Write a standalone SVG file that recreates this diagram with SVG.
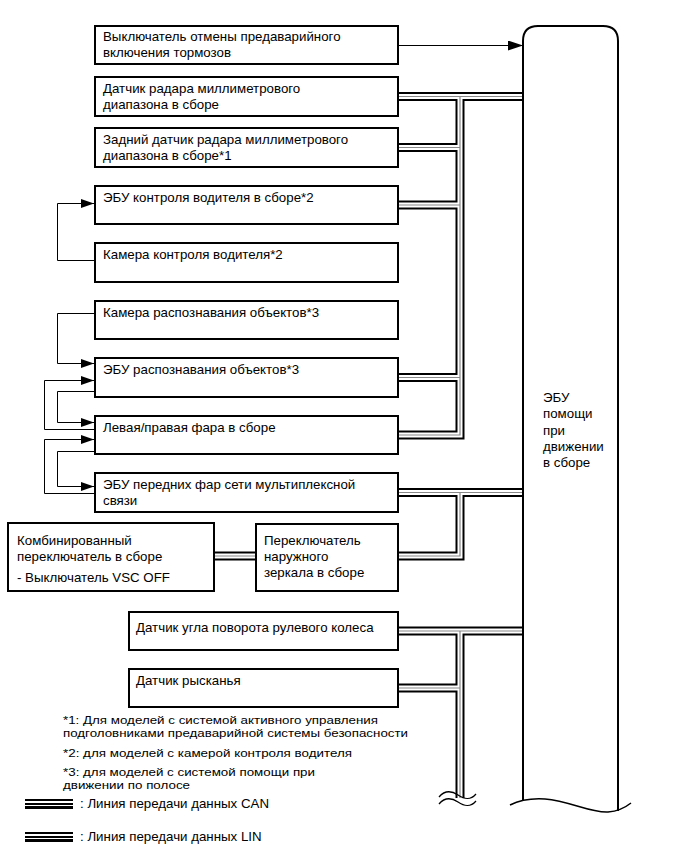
<svg xmlns="http://www.w3.org/2000/svg" width="687" height="857" viewBox="0 0 687 857">
<style>
.box{fill:#fff;stroke:#000;stroke-width:2}
.t{font-family:"Liberation Sans",Arial,sans-serif;font-size:13.3px;fill:#000}
.n{font-family:"Liberation Sans",Arial,sans-serif;font-size:11px;fill:#000}
.thin{fill:none;stroke:#000;stroke-width:1}
.bk{fill:none;stroke:#000;stroke-width:9;stroke-linejoin:miter;stroke-linecap:butt}
.wh{fill:none;stroke:#fff;stroke-width:5;stroke-linejoin:miter;stroke-linecap:butt}
.gr{fill:none;stroke:#888;stroke-width:1.2;stroke-linecap:butt}
</style>
<defs>
<marker id="ah" markerUnits="userSpaceOnUse" markerWidth="13" markerHeight="9" refX="13" refY="4.5" orient="auto"><path d="M0,0 L13,4.5 L0,9 z" fill="#000"/></marker>
<marker id="ahL" markerUnits="userSpaceOnUse" markerWidth="15" markerHeight="10" refX="15" refY="5" orient="auto"><path d="M0,0 L15,5 L0,10 z" fill="#000"/></marker>
<path id="busA" d="M523,96.5 H398 M460,96.5 V435 H398 M460,147.5 H398 M460,205 H398 M460,377.5 H398"/>
<path id="busB" d="M523,492.5 H398 M460,492.5 V556 H398 M214,556 H256"/>
<path id="busC" d="M523,631 H398 M460,631 V798 M460,688 H398"/>
</defs>
<rect width="687" height="857" fill="#fff"/>

<g id="connectors">
<use href="#busA" class="bk"/><use href="#busB" class="bk"/><use href="#busC" class="bk"/>
<use href="#busA" class="wh"/><use href="#busB" class="wh"/><use href="#busC" class="wh"/>
<use href="#busA" class="gr"/><use href="#busB" class="gr"/><use href="#busC" class="gr"/>
<path class="thin" d="M398,45.5 H523" marker-end="url(#ahL)"/>
<path class="thin" d="M95,260.5 H57.5 V203.5 H94" marker-end="url(#ah)"/>
<path class="thin" d="M95,313.5 H57.5 V363.5 H94" marker-end="url(#ah)"/>
<path class="thin" d="M95,429.5 H44.5 V380.5 H94" marker-end="url(#ah)"/>
<path class="thin" d="M95,391.5 H57.5 V422.5 H94" marker-end="url(#ah)"/>
<path class="thin" d="M95,493.5 H44.5 V439.5 H94" marker-end="url(#ah)"/>
<path class="thin" d="M95,451.5 H57.5 V486.5 H94" marker-end="url(#ah)"/>
<path fill="none" stroke="#000" stroke-width="1.3" d="M439,797 C445,790 452,791 458,795 S470,801 476,794"/>
<path fill="none" stroke="#000" stroke-width="1.3" d="M439,804 C445,797 452,798 458,802 S470,808 476,801"/>
</g>

<g id="ecu">
<path fill="none" stroke="#000" stroke-width="2" d="M523,801 V41 Q523,26 538,26 H603 Q618,26 618,41 V811"/>
<path fill="none" stroke="#000" stroke-width="1.5" d="M510,805 C520,800 530,798 545,799 C570,801 590,813 608,812 C620,811 626,807 631,803"/>
<text class="t" x="543" y="402">ЭБУ</text>
<text class="t" x="543" y="418">помощи</text>
<text class="t" x="543" y="435">при</text>
<text class="t" x="543" y="451">движении</text>
<text class="t" x="543" y="467">в сборе</text>
</g>

<g id="n1"><rect class="box" x="95" y="26" width="303" height="38"/>
<text class="t" x="103" y="41">Выключатель отмены предаварийного</text>
<text class="t" x="103" y="57">включения тормозов</text></g>
<g id="n2"><rect class="box" x="95" y="77" width="303" height="39"/>
<text class="t" x="103" y="93">Датчик радара миллиметрового</text>
<text class="t" x="103" y="109">диапазона в сборе</text></g>
<g id="n3"><rect class="box" x="95" y="128" width="303" height="39"/>
<text class="t" x="103" y="144">Задний датчик радара миллиметрового</text>
<text class="t" x="103" y="160">диапазона в сборе*1</text></g>
<g id="n4"><rect class="box" x="95" y="186" width="303" height="38"/>
<text class="t" x="103" y="202">ЭБУ контроля водителя в сборе*2</text></g>
<g id="n5"><rect class="box" x="95" y="243" width="303" height="39"/>
<text class="t" x="103" y="259">Камера контроля водителя*2</text></g>
<g id="n6"><rect class="box" x="95" y="301" width="303" height="38"/>
<text class="t" x="103" y="317">Камера распознавания объектов*3</text></g>
<g id="n7"><rect class="box" x="95" y="358" width="303" height="39"/>
<text class="t" x="103" y="374">ЭБУ распознавания объектов*3</text></g>
<g id="n8"><rect class="box" x="95" y="416" width="303" height="38"/>
<text class="t" x="103" y="432">Левая/правая фара в сборе</text></g>
<g id="n9"><rect class="box" x="95" y="473" width="303" height="39"/>
<text class="t" x="103" y="489">ЭБУ передних фар сети мультиплексной</text>
<text class="t" x="103" y="505">связи</text></g>
<g id="n10"><rect class="box" x="8" y="523" width="206" height="68"/>
<text class="t" x="17" y="545">Комбинированный</text>
<text class="t" x="17" y="561">переключатель в сборе</text>
<text class="t" x="17" y="582">- Выключатель VSC OFF</text></g>
<g id="n11"><rect class="box" x="256" y="524" width="142" height="67"/>
<text class="t" x="264" y="545">Переключатель</text>
<text class="t" x="264" y="561">наружного</text>
<text class="t" x="264" y="577">зеркала в сборе</text></g>
<g id="n12"><rect class="box" x="129" y="612" width="269" height="38"/>
<text class="t" x="136" y="632">Датчик угла поворота рулевого колеса</text></g>
<g id="n13"><rect class="box" x="129" y="669" width="269" height="38"/>
<text class="t" x="136" y="685">Датчик рысканья</text></g>

<g id="notes">
<text class="n" x="63" y="724" textLength="315" lengthAdjust="spacingAndGlyphs">*1: Для моделей с системой активного управления</text>
<text class="n" x="63" y="737" textLength="345" lengthAdjust="spacingAndGlyphs">подголовниками предаварийной системы безопасности</text>
<text class="n" x="63" y="756.5" textLength="289" lengthAdjust="spacingAndGlyphs">*2: для моделей с камерой контроля водителя</text>
<text class="n" x="63" y="776" textLength="252" lengthAdjust="spacingAndGlyphs">*3: для моделей с системой помощи при</text>
<text class="n" x="63" y="789" textLength="127" lengthAdjust="spacingAndGlyphs">движении по полосе</text>
</g>

<g id="legend">
<path stroke="#000" stroke-width="2" d="M25,800 H73 M25,804 H73"/>
<path stroke="#000" stroke-width="3" d="M25,807.5 H73"/>
<text class="t" x="80" y="808">: Линия передачи данных CAN</text>
<path stroke="#000" stroke-width="2" d="M25,833 H73 M25,837 H73"/>
<path stroke="#000" stroke-width="3" d="M25,840.5 H73"/>
<text class="t" x="80" y="841">: Линия передачи данных LIN</text>
</g>
</svg>
